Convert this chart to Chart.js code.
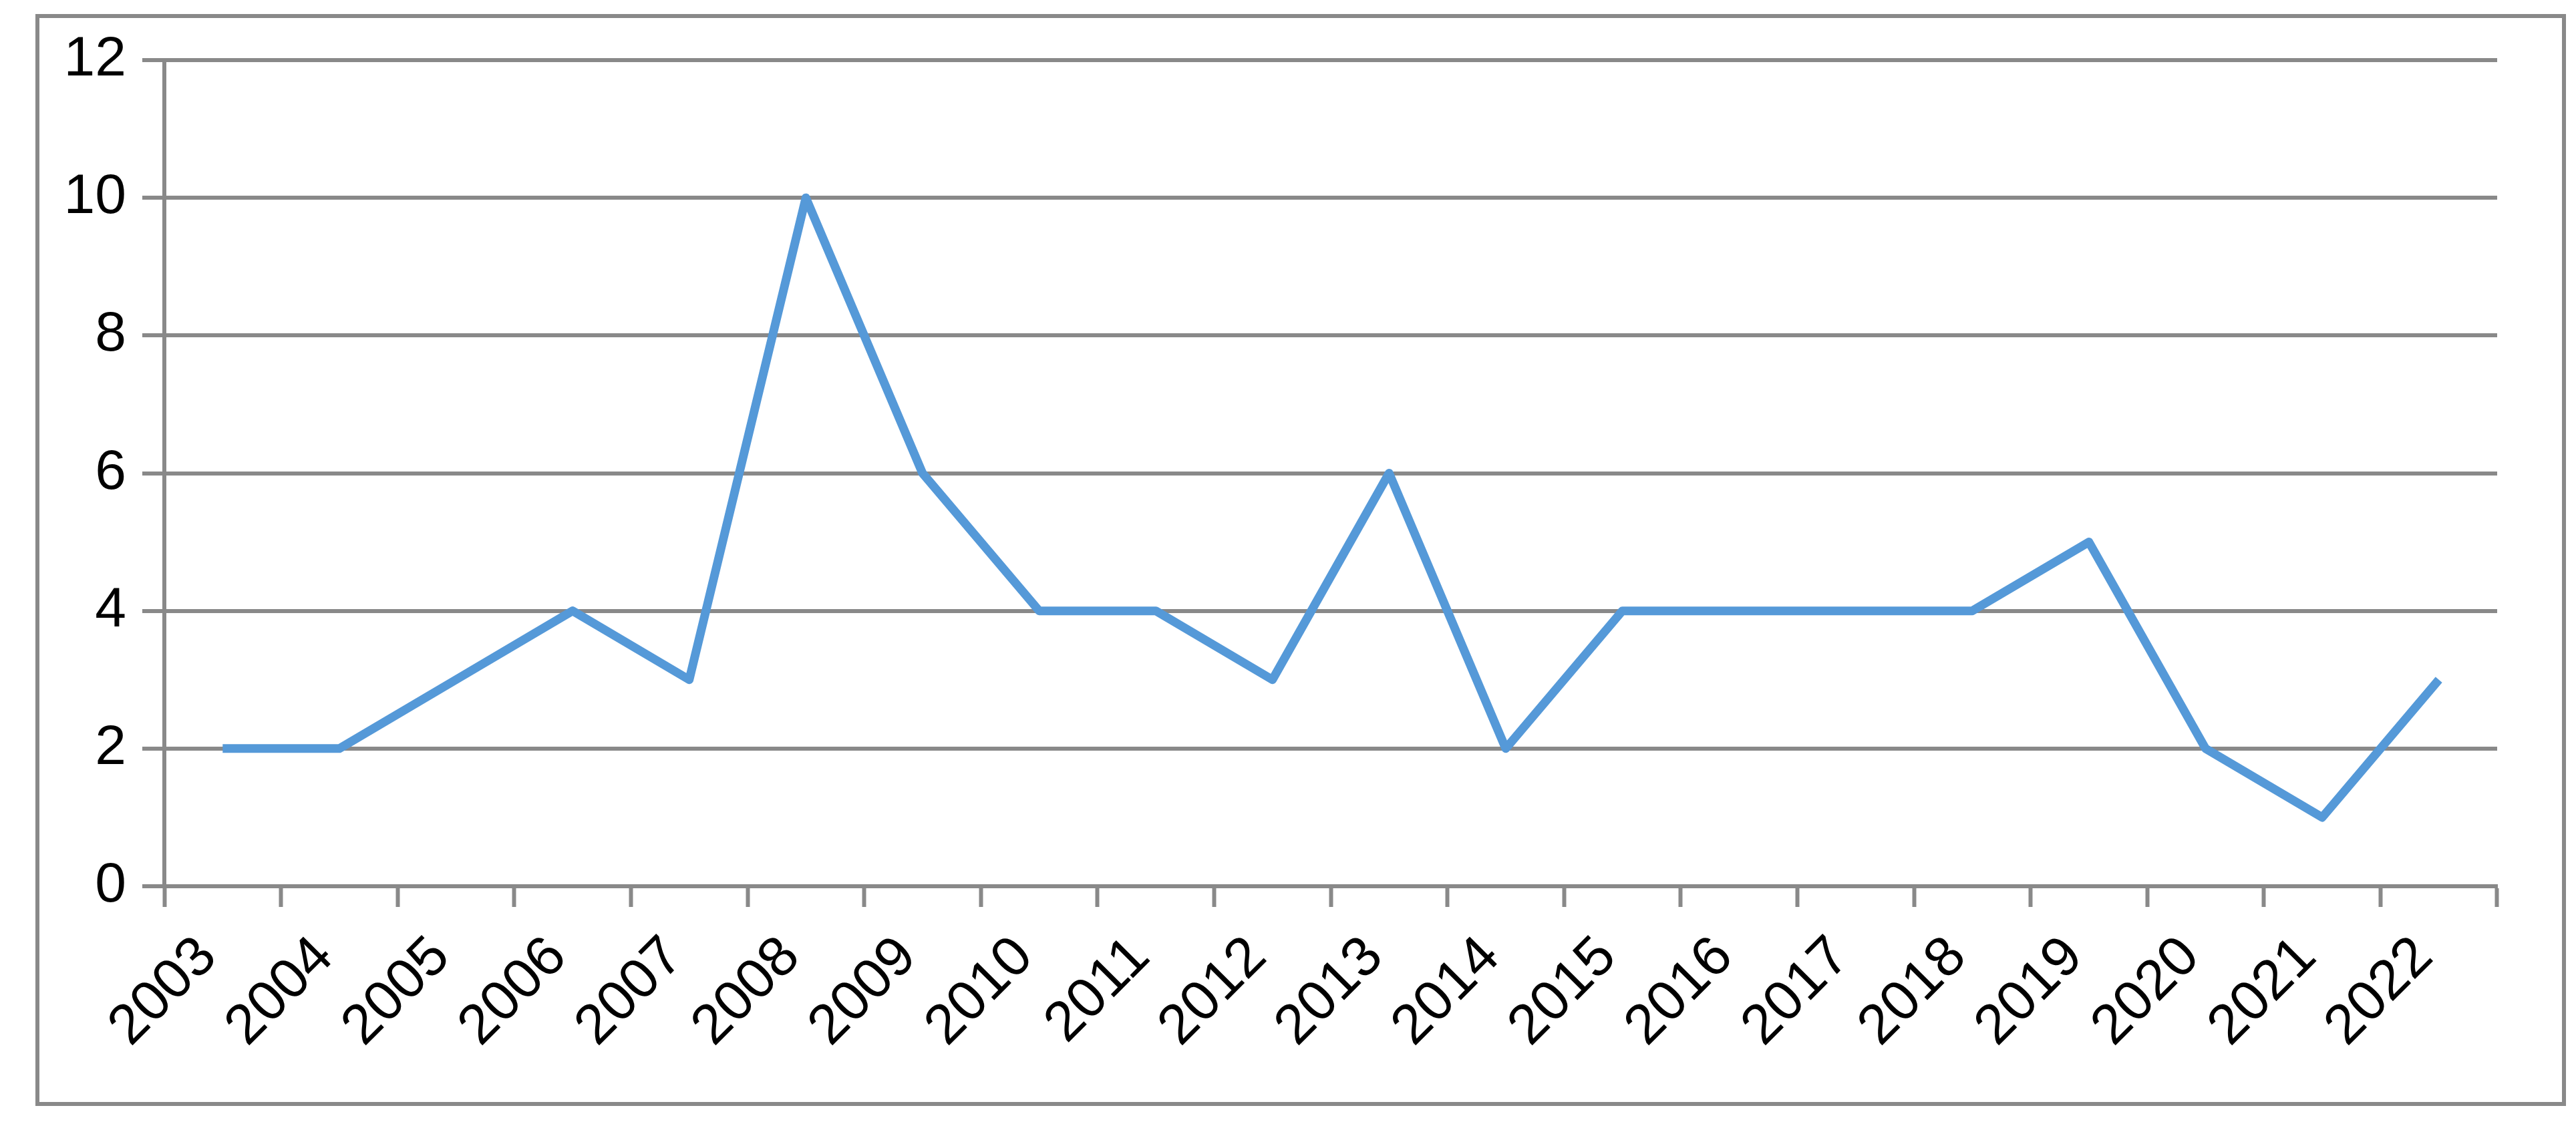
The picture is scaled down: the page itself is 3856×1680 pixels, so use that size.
<!DOCTYPE html>
<html>
<head>
<meta charset="utf-8">
<script src="https://cdn.jsdelivr.net/npm/chart.js@4"></script>
<style>
html,body{margin:0;padding:0;background:#fff;}
#wrap{position:relative;width:3856px;height:1680px;}
</style>
</head>
<body>
<div id="wrap"><canvas id="c" width="3856" height="1680"></canvas></div>
<script>
const years = ["2003","2004","2005","2006","2007","2008","2009","2010","2011","2012","2013","2014","2015","2016","2017","2018","2019","2020","2021","2022"];
const counts = [2,2,3,4,3,10,6,4,4,3,6,2,4,4,4,4,5,2,1,3];
const yMin = 0, yMax = 12, yStep = 2;

const gridColor = '#898989';
const lineColor = '#5599D8';
const fontFamily = '"Liberation Sans", Arial, sans-serif';

const frame = {
  id: 'frame',
  beforeDraw(chart) {
    const ctx = chart.ctx;
    ctx.save();
    ctx.fillStyle = '#fff';
    ctx.fillRect(0, 0, chart.width, chart.height);
    ctx.strokeStyle = gridColor;
    ctx.lineWidth = 6;
    ctx.strokeRect(56, 24, 3782, 1629);
    ctx.restore();
  }
};

new Chart(document.getElementById('c'), {
  type: 'line',
  data: {
    labels: years,
    datasets: [{
      data: counts,
      borderColor: lineColor,
      borderWidth: 13,
      pointRadius: 0,
      pointHoverRadius: 0,
      tension: 0,
      fill: false,
      borderJoinStyle: 'round',
      borderCapStyle: 'butt'
    }]
  },
  options: {
    responsive: false,
    animation: false,
    devicePixelRatio: 1,
    layout: { padding: { top: 90, right: 118, bottom: 0, left: 0 } },
    plugins: { legend: { display: false }, tooltip: { enabled: false } },
    scales: {
      x: {
        type: 'category',
        offset: true,
        grid: {
          offset: true,
          drawOnChartArea: false,
          drawTicks: true,
          tickLength: 31,
          tickWidth: 6,
          tickColor: gridColor,
          color: gridColor
        },
        border: { display: true, color: gridColor, width: 6 },
        ticks: {
          autoSkip: false,
          minRotation: 45,
          maxRotation: 45,
          color: '#000',
          padding: 26,
          labelOffset: -22,
          font: { family: fontFamily, size: 84 }
        },
        afterFit(scale) { scale.height = 1680 - 1327; }
      },
      y: {
        min: yMin,
        max: yMax,
        grid: {
          color: gridColor,
          lineWidth: 6,
          drawTicks: true,
          tickLength: 33
        },
        border: { display: true, color: gridColor, width: 6 },
        ticks: {
          stepSize: yStep,
          color: '#000',
          padding: 24,
          crossAlign: 'near',
          font: { family: fontFamily, size: 84 }
        },
        afterFit(scale) { scale.width = 246; }
      }
    }
  },
  plugins: [frame]
});
</script>
</body>
</html>
